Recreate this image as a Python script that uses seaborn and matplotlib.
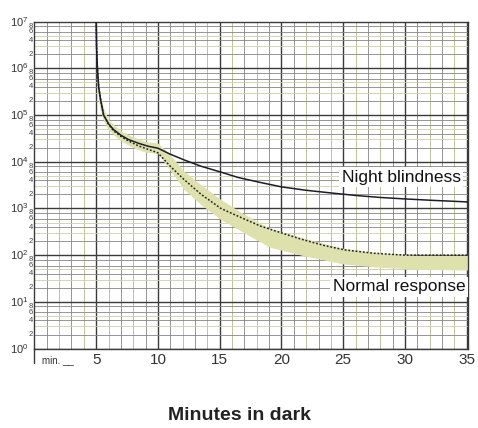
import matplotlib
matplotlib.use("Agg")
import numpy as np
import pandas as pd
import matplotlib.pyplot as plt
import seaborn as sns

# dark adaptation thresholds (log scale)
night_x = [5.0, 5.03, 5.1, 5.2, 5.35, 5.6, 6.0, 6.4, 7.0, 7.6, 8.4, 9.2, 10.0,
           11.0, 12.1, 13.5, 15.1, 16.5, 18.3, 20.0, 22.0, 24.0, 26.0, 28.0,
           30.0, 32.5, 35.1]
night_y = [1e7, 3e6, 1e6, 4e5, 2.2e5, 1e5, 6.5e4, 4.9e4, 3.7e4, 3.0e4, 2.5e4,
           2.15e4, 1.95e4, 1.45e4, 1.1e4, 8.0e3, 6.0e3, 4.6e3, 3.6e3, 2.9e3,
           2.45e3, 2.15e3, 1.9e3, 1.72e3, 1.6e3, 1.48e3, 1.38e3]

normal_x = [5.0, 5.03, 5.1, 5.2, 5.35, 5.6, 6.0, 6.4, 7.0, 7.6, 8.4, 9.2, 10.0,
            11.0, 12.1, 13.5, 15.1, 16.5, 18.3, 20.0, 21.6, 23.5, 25.1, 27.5,
            30.0, 35.1]
normal_y = [1e7, 3e6, 1e6, 4e5, 2.2e5, 1e5, 6.3e4, 4.6e4, 3.5e4, 2.8e4, 2.2e4,
            1.85e4, 1.55e4, 8.0e3, 4.2e3, 2.0e3, 1.0e3, 6.8e2, 4.2e2, 3.0e2,
            2.2e2, 1.6e2, 1.3e2, 1.1e2, 1.0e2, 1.0e2]

# shaded normal range
band_x = [5.08, 5.3, 5.6, 6.0, 6.5, 7.0, 8.0, 9.0, 10.0, 11.0, 12.1, 13.5, 15.1,
          17.0, 19.0, 21.6, 25.0, 28.0, 31.0, 35.1]
band_hi = [1.2e6, 3e5, 1.4e5, 8e4, 6e4, 4.6e4, 3.4e4, 2.7e4, 2.5e4, 1.4e4, 6.3e3,
           3.2e3, 1.55e3, 7.5e2, 3.8e2, 2.4e2, 1.4e2, 1.1e2, 1.0e2, 1.0e2]
band_lo = [4e5, 1.4e5, 7.5e4, 4.8e4, 3.6e4, 2.8e4, 2.0e4, 1.6e4, 1.5e4, 6.5e3,
           2.6e3, 1.2e3, 5.8e2, 3.0e2, 1.5e2, 1.0e2, 6.5e1, 5.5e1, 5.0e1, 4.8e1]

x_ticks = [5, 10, 15, 20, 25, 30, 35]
decades = [0, 1, 2, 3, 4, 5, 6, 7]

night = pd.DataFrame({"minutes": night_x, "threshold": night_y})
normal = pd.DataFrame({"minutes": normal_x, "threshold": normal_y})

sns.set_style("white")
plt.rcParams["font.family"] = ["Liberation Sans", "DejaVu Sans"]
plt.rcParams["mathtext.default"] = "regular"

fig = plt.figure(figsize=(4.78, 4.28), dpi=100)
ax = fig.add_axes([0.072, 0.1855, 0.907, 0.764])
ax.set_yscale("log")
ax.set_xlim(0, 35.1)
ax.set_ylim(1, 1e7)

# graph paper grid
for m in range(1, 36):
    if m % 5 == 0:
        ax.axvline(m, color="#3a3a3a", lw=1.0, zorder=0)
    else:
        ax.axvline(m, color="#858585" if m % 2 else "#b4b78e", lw=0.6, zorder=0)
for d in decades[:-1]:
    for k in (2, 4, 6, 8):
        ax.axhline(k * 10 ** d, color="#858585", lw=0.6, zorder=0)
    for k in (3, 5):
        ax.axhline(k * 10 ** d, color="#cdd0a6", lw=0.6, zorder=0)
    ax.axhline(10 ** d, color="#3a3a3a", lw=1.0, zorder=0)

ax.fill_between(band_x, band_lo, band_hi, color="#dfe1ad", lw=0, zorder=1)

sns.lineplot(data=night, x="minutes", y="threshold", ax=ax, color="#1c1c2a",
             lw=1.1, sort=False, estimator=None, zorder=3)
sns.lineplot(data=normal, x="minutes", y="threshold", ax=ax, color="#222222",
             lw=1.1, ls=(0, (1.2, 1.2)), sort=False, estimator=None, zorder=2)

ax.set_xlabel("")
ax.set_ylabel("")
ax.set_xticks(x_ticks)
ax.set_xticklabels([str(t) for t in x_ticks], fontsize=11, color="#333333")
ax.set_yticks([])
ax.set_yticks([], minor=True)
ax.tick_params(length=0, pad=3)
for s in ax.spines.values():
    s.set_color("#3a3a3a")
    s.set_linewidth(1.0)

trans = ax.get_yaxis_transform()
for d in decades:
    ax.text(-0.014, 10 ** d, "$10^{%d}$" % d, transform=trans, ha="right",
            va="center", fontsize=8, color="#333333")
    if d < 7:
        for k in (2, 4, 6, 8):
            ax.text(-0.009, k * 10 ** d, str(k), transform=trans, ha="center",
                    va="center", fontsize=5.5, color="#444444")

ax.plot([0, 0], [0, -0.045], transform=ax.transAxes, color="#3a3a3a", lw=1.0,
        clip_on=False)
ax.text(0.6, -0.035, "min. __", transform=ax.get_xaxis_transform(),
        fontsize=7, color="#333333", va="center")

ax.text(34.5, 4.7e3, "Night blindness", ha="right", va="center", fontsize=12.5,
        color="#111111", zorder=4,
        bbox=dict(facecolor="white", edgecolor="none", pad=2))
ax.text(34.9, 21, "Normal response", ha="right", va="center", fontsize=12.5,
        color="#111111", zorder=4,
        bbox=dict(facecolor="white", edgecolor="none", pad=2))

fig.text(0.5, 0.03, "Minutes in dark", ha="center", va="center",
         fontsize=14, fontweight="bold", color="#222222")

fig.savefig("out.png", dpi=100)
